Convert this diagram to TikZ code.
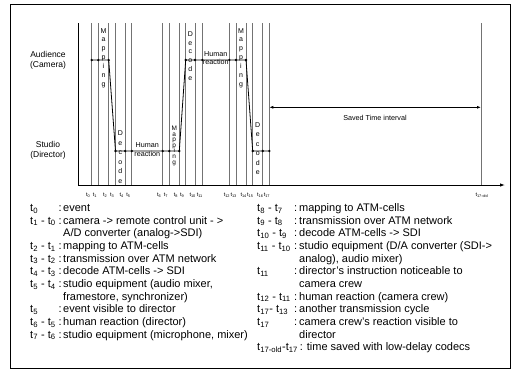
\documentclass[tikz,border=0pt]{standalone}
\usepackage{fontspec}
\setmainfont{Liberation Sans}
\usetikzlibrary{arrows.meta}
\newcommand\tsb[1]{t\textsubscript{#1}}
\begin{document}
\begin{tikzpicture}[x=1pt,y=-1pt,
  tline/.style={black!55,line width=0.9pt},
  pathline/.style={black,line width=0.8pt},
  dot/.style={circle,fill=black,inner sep=0pt,minimum size=2.6pt},
  vlet/.style={font=\fontsize{7}{8}\selectfont,inner sep=0pt,anchor=base},
  smalltxt/.style={font=\fontsize{7.2}{8}\selectfont,inner sep=0pt,anchor=base},
  lvl/.style={font=\fontsize{8.5}{10.5}\selectfont,align=center,inner sep=0pt},
  tlab/.style={font=\fontsize{5.5}{6}\selectfont,inner sep=0pt,anchor=base west},
  leg/.style={font=\fontsize{11}{12}\selectfont,inner sep=0pt,anchor=base west},
]
\useasboundingbox (0,0) rectangle (521,378);
\draw[line width=1.8pt] (10.5,4.5) rectangle (510.5,368.5);

% time lines
\foreach \n/\x in {0/91.7,1/98.3,2/108.7,3/115.5,4/125.2,5/131.8,6/162.7,7/169.3,8/179.3,9/185.7,10/195,11/202.3,12/229.3,13/236,14/246,15/252.7,16/262.7,17/269.3,17-old/481}{
  \coordinate (top\n) at (\x,23);
  \coordinate (bot\n) at (\x,185);
  \draw[tline] (top\n) -- (bot\n);
  \node[tlab] (lab\n) at (\x-5.7,196.5) {\tsb{\n}};
}

% axes
\coordinate (axtop) at (78,23);
\coordinate (axorig) at (78,185);
\coordinate (axend) at (505,185);
\draw[line width=0.9pt] (axtop) -- (axorig);
\draw[line width=0.9pt,-{Latex[length=5pt,width=3.5pt]}] (axorig) -- (axend);

% level labels
\node[lvl] (aud) at (48,60.5) {Audience\\(Camera)};
\node[lvl] (stu) at (48,150.5) {Studio\\(Director)};

% dots
\foreach \n/\x in {0/91.7,1/98.3,2/108.7,9/185.7,10/195,11/202.3,12/229.3,13/236,14/246}
  \node[dot] (d\n) at (\x,60) {};
\foreach \n/\x in {3/115.5,4/125.2,5/131.8,6/162.7,7/169.3,8/179.3,15/252.7,16/262.7,17/269.3}
  \node[dot] (d\n) at (\x,151) {};
\draw[pathline] (d0.center) -- (d2.center) -- (d3.center) -- (d8.center) -- (d9.center) -- (d14.center) -- (d15.center) -- (d17.center);

% vertical words
\foreach \ch [count=\i from 0] in {M,a,p,p,i,n,g}
  \node[vlet] (mapA\i) at (103.5,33+8.9*\i) {\ch};
\foreach \ch [count=\i from 0] in {D,e,c,o,d,e}
  \node[vlet] (decA\i) at (120.3,135.5+9.5*\i) {\ch};
\foreach \ch [count=\i from 0] in {M,a,p,p,i,n,g}
  \node[vlet,font=\fontsize{6.5}{7}\selectfont] (mapB\i) at (174.3,130.5+5.6*\i) {\ch};
\foreach \ch [count=\i from 0] in {D,e,c,o,d,e}
  \node[vlet] (decB\i) at (190.4,36.5+8.7*\i) {\ch};
\foreach \ch [count=\i from 0] in {M,a,p,p,i,n,g}
  \node[vlet] (mapC\i) at (241,33+8.9*\i) {\ch};
\foreach \ch [count=\i from 0] in {D,e,c,o,d,e}
  \node[vlet] (decC\i) at (257.7,127.5+9.4*\i) {\ch};

% human reaction
\node[smalltxt] (hr1a) at (147.3,147.5) {Human};
\node[smalltxt] (hr1b) at (147.3,156.5) {reaction};
\node[smalltxt] (hr2a) at (215.8,56.8) {Human};
\node[smalltxt] (hr2b) at (215.8,64.5) {reaction};

% saved time interval
\coordinate (sav1) at (269.3,107.3);
\coordinate (sav2) at (481,107.3);
\draw[line width=0.8pt,{Latex[length=4pt,width=3pt]}-{Latex[length=4pt,width=3pt]}] (sav1) -- (sav2);
\node[smalltxt] (savtxt) at (375,120) {Saved Time interval};

% legend left
\def\ly#1{211.5+12.65*#1}
\node[leg] (l0t) at (30,{\ly{0}}) {\tsb{0}};
\node[leg] (l0c) at (58.5,{\ly{0}}) {:};
\node[leg] (l0x) at (63,{\ly{0}}) {event};
\node[leg] (l1t) at (30,{\ly{1}}) {\tsb{1} - \tsb{0}};
\node[leg] (l1c) at (58.5,{\ly{1}}) {:};
\node[leg] (l1x) at (63,{\ly{1}}) {camera -> remote control unit - >};
\node[leg] (l2x) at (63,{\ly{2}}) {A/D converter (analog->SDI)};
\node[leg] (l3t) at (30,{\ly{3}}) {\tsb{2} - \tsb{1}};
\node[leg] (l3c) at (58.5,{\ly{3}}) {:};
\node[leg] (l3x) at (63,{\ly{3}}) {mapping to ATM-cells};
\node[leg] (l4t) at (30,{\ly{4}}) {\tsb{3} - \tsb{2}};
\node[leg] (l4c) at (58.5,{\ly{4}}) {:};
\node[leg] (l4x) at (63,{\ly{4}}) {transmission over ATM network};
\node[leg] (l5t) at (30,{\ly{5}}) {\tsb{4} - \tsb{3}};
\node[leg] (l5c) at (58.5,{\ly{5}}) {:};
\node[leg] (l5x) at (63,{\ly{5}}) {decode ATM-cells -> SDI};
\node[leg] (l6t) at (30,{\ly{6}}) {\tsb{5} - \tsb{4}};
\node[leg] (l6c) at (58.5,{\ly{6}}) {:};
\node[leg] (l6x) at (63,{\ly{6}}) {studio equipment (audio mixer,};
\node[leg] (l7x) at (63,{\ly{7}}) {framestore, synchronizer)};
\node[leg] (l8t) at (30,{\ly{8}}) {\tsb{5}};
\node[leg] (l8c) at (58.5,{\ly{8}}) {:};
\node[leg] (l8x) at (63,{\ly{8}}) {event visible to director};
\node[leg] (l9t) at (30,{\ly{9}}) {\tsb{6} - \tsb{5}};
\node[leg] (l9c) at (58.5,{\ly{9}}) {:};
\node[leg] (l9x) at (63,{\ly{9}}) {human reaction (director)};
\node[leg] (l10t) at (30,{\ly{10}}) {\tsb{7} - \tsb{6}};
\node[leg] (l10c) at (58.5,{\ly{10}}) {:};
\node[leg] (l10x) at (63,{\ly{10}}) {studio equipment (microphone, mixer)};

% legend right
\node[leg] (r0t) at (257,{\ly{0}}) {\tsb{8} - \tsb{7}};
\node[leg] (r0c) at (294,{\ly{0}}) {:};
\node[leg] (r0x) at (299,{\ly{0}}) {mapping to ATM-cells};
\node[leg] (r1t) at (257,{\ly{1}}) {\tsb{9} - \tsb{8}};
\node[leg] (r1c) at (294,{\ly{1}}) {:};
\node[leg] (r1x) at (299,{\ly{1}}) {transmission over ATM network};
\node[leg] (r2t) at (257,{\ly{2}}) {\tsb{10} - \tsb{9}};
\node[leg] (r2c) at (294,{\ly{2}}) {:};
\node[leg] (r2x) at (299,{\ly{2}}) {decode ATM-cells -> SDI};
\node[leg] (r3t) at (257,{\ly{3}}) {\tsb{11} - \tsb{10}};
\node[leg] (r3c) at (294,{\ly{3}}) {:};
\node[leg] (r3x) at (299,{\ly{3}}) {studio equipment (D/A converter (SDI->};
\node[leg] (r4x) at (299,{\ly{4}}) {analog), audio mixer)};
\node[leg] (r5t) at (257,{\ly{5}}) {\tsb{11}};
\node[leg] (r5c) at (294,{\ly{5}}) {:};
\node[leg] (r5x) at (299,{\ly{5}}) {director's instruction noticeable to};
\node[leg] (r6x) at (299,{\ly{6}}) {camera crew};
\node[leg] (r7t) at (257,{\ly{7}}) {\tsb{12} - \tsb{11}};
\node[leg] (r7c) at (294,{\ly{7}}) {:};
\node[leg] (r7x) at (299,{\ly{7}}) {human reaction (camera crew)};
\node[leg] (r8t) at (257,{\ly{8}}) {\tsb{17}- \tsb{13}};
\node[leg] (r8c) at (294,{\ly{8}}) {:};
\node[leg] (r8x) at (299,{\ly{8}}) {another transmission cycle};
\node[leg] (r9t) at (257,{\ly{9}}) {\tsb{17}};
\node[leg] (r9c) at (294,{\ly{9}}) {:};
\node[leg] (r9x) at (299,{\ly{9}}) {camera crew's reaction visible to};
\node[leg] (r10x) at (299,{\ly{10}}) {director};
\node[leg] (r11t) at (257,{\ly{11}}) {\tsb{17-old}-\tsb{17}\,: time saved with low-delay codecs};
\end{tikzpicture}
\end{document}
